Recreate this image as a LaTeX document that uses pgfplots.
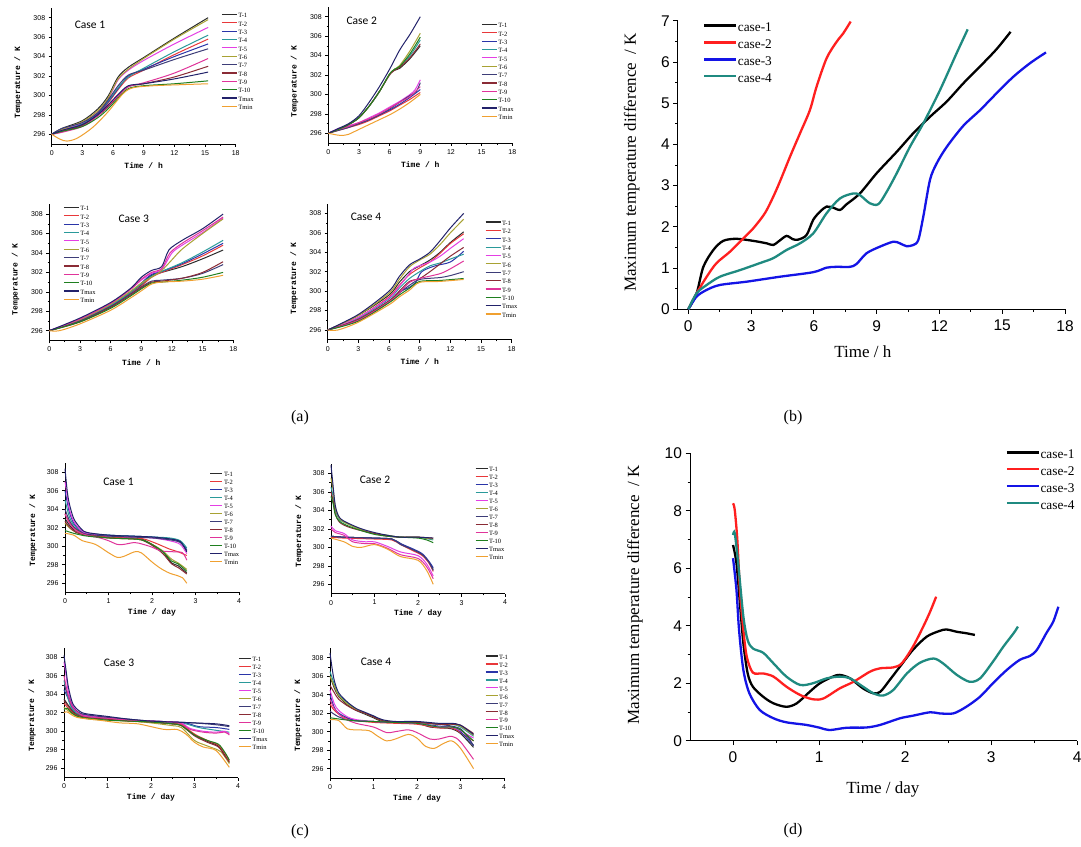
\documentclass[border=0pt]{standalone}
\usepackage{fontspec}
\setmainfont{Liberation Serif}
\setsansfont{Liberation Sans}
\setmonofont{Liberation Mono}
\newfontfamily\casefont{Carlito}
\usepackage{pgfplots}
\pgfplotsset{compat=1.18}

% probe colours (T-1 ... T-10, Tmax, Tmin)
\definecolor{cA}{HTML}{2B2B2B}
\definecolor{cB}{HTML}{E8383A}
\definecolor{cC}{HTML}{2A35A8}
\definecolor{cD}{HTML}{2A9A9A}
\definecolor{cE}{HTML}{E43FE4}
\definecolor{cF}{HTML}{A8A233}
\definecolor{cG}{HTML}{3D3D78}
\definecolor{cH}{HTML}{8A2B35}
\definecolor{cI}{HTML}{E0349A}
\definecolor{cJ}{HTML}{1F7F1F}
\definecolor{cMax}{HTML}{22226A}
\definecolor{cMin}{HTML}{F0A030}
% case colours
\definecolor{kOne}{HTML}{000000}
\definecolor{kTwo}{HTML}{FF1F1F}
\definecolor{kThree}{HTML}{1414E6}
\definecolor{kFour}{HTML}{1F8A80}

\pgfplotsset{
  origin/.style={
    scale only axis,
    axis x line*=bottom, axis y line*=left,
    tick align=outside,
    /pgf/number format/assume math mode=true,
    legend cell align=left,
    legend style={draw=none, fill=none, anchor=north west},
    clip=false,
  },
  smallpanel/.style={
    origin,
    width=184pt, height=136pt,
    ymin=295, ymax=309, ytick={296,298,...,308}, minor y tick num=1,
    xmin=0, xmax=18, xtick={0,3,...,18}, minor x tick num=1,
    major tick length=3pt, minor tick length=1.7pt,
    tick style={black, line width=0.6pt},
    axis line style={black, line width=0.6pt},
    ticklabel style={font=\sffamily\fontsize{7}{8}\selectfont},
    xlabel style={font=\ttfamily\bfseries\fontsize{8}{9}\selectfont,
      at={(axis description cs:0.5,-0.16)}, anchor=center},
    ylabel style={font=\ttfamily\bfseries\fontsize{8}{9}\selectfont,
      at={(axis description cs:-0.183,0.45)}, anchor=center},
    xlabel={Time / h}, ylabel={Temperature / K},
    every axis plot/.append style={smooth, line width=1pt, mark=none},
    legend image code/.code={\draw[##1, line width=1.2pt] (0pt,1.8pt) -- (15pt,1.8pt);},
    legend style={font=\fontsize{6.5}{7}\selectfont,
      nodes={inner sep=0pt, text height=4.5pt, text depth=1.5pt},
      row sep=2.36pt, /tikz/every odd column/.append style={column sep=1pt}},
  },
  daypanel/.style={
    smallpanel,
    width=174pt, height=129.5pt,
    xmin=0, xmax=4, xtick={0,1,...,4}, minor x tick num=1,
    xlabel={Time / day},
    xlabel style={at={(axis description cs:0.5,-0.157)}},
    ylabel style={at={(axis description cs:-0.184,0.48)}},
    legend image code/.code={\draw[##1, line width=1.2pt] (0pt,1.8pt) -- (12pt,1.8pt);},
    legend style={row sep=1.95pt},
  },
  bigpanel/.style={
    origin,
    major tick length=4.5pt, minor tick length=2.5pt,
    tick style={black, line width=0.8pt},
    axis line style={black, line width=0.8pt},
    ticklabel style={font=\sffamily\fontsize{15.5}{16}\selectfont},
    xticklabel style={yshift=-3pt},
    label style={font=\fontsize{17}{18}\selectfont},
    every axis plot/.append style={smooth, line width=2.3pt, mark=none},
    legend image code/.code={\draw[##1, line width=2.3pt] (0pt,3.3pt) -- (32pt,3.3pt);},
    legend style={font=\fontsize{13.3}{14}\selectfont,
      nodes={inner sep=0pt, text height=9pt, text depth=3pt},
      row sep=4.9pt, /tikz/every odd column/.append style={column sep=0.5pt}},
  },
}

\newcommand{\probelegend}{\legend{T-1,T-2,T-3,T-4,T-5,T-6,T-7,T-8,T-9,T-10,Tmax,Tmin}}

\begin{document}
\begin{tikzpicture}
\fill[white] (0pt,0pt) rectangle (1081pt,846pt);
\useasboundingbox (0pt,0pt) rectangle (1081pt,846pt);

% ---------------- (a) heating, Case 1 ----------------
\begin{axis}[smallpanel, at={(51.7pt,702pt)}, anchor=south west,
  legend style={at={(0.904,0.978)}}]
\addplot[cA] coordinates {(0,296)(1,296.6)(3,297.4)(4.5,298.6)(5.5,299.9)(6.5,301.9)(7.5,302.9)(9,303.9)(12,305.9)(15.3,308)};
\addplot[cB] coordinates {(0,296)(1,296.3)(3,297)(4.5,298)(5.5,299.2)(6.5,300.6)(7.5,301.8)(9,302.6)(12,304.2)(15.3,305.8)};
\addplot[cC] coordinates {(0,296)(1,296.5)(3,297)(4.5,298.1)(5.5,299.3)(6.5,300.7)(7.5,302)(9,302.7)(12,304)(15.3,305.3)};
\addplot[cD] coordinates {(0,296)(1,296.5)(3,297.1)(4.5,298.2)(5.5,299.4)(6.5,300.8)(7.5,301.9)(9,302.8)(12,304.5)(15.3,306.2)};
\addplot[cE] coordinates {(0,296)(1,296.5)(3,297.2)(4.5,298.3)(5.5,299.6)(6.5,301.6)(7.5,302.6)(9,303.6)(12,305.3)(15.3,307)};
\addplot[cF] coordinates {(0,296)(1,296.5)(3,297.3)(4.5,298.4)(5.5,299.7)(6.5,301.7)(7.5,302.7)(9,303.8)(12,305.8)(15.3,307.8)};
\addplot[cG] coordinates {(0,296)(1,296.6)(3,297.2)(4.5,298.2)(5.5,299.5)(6.5,301)(7.5,302.1)(9,302.6)(12,303.7)(15.3,304.8)};
\addplot[cH] coordinates {(0,296)(1,296.3)(3,296.9)(4.5,297.9)(5.5,298.8)(6.5,299.9)(7.5,300.9)(9,301.2)(12,301.9)(15.3,303)};
\addplot[cI] coordinates {(0,296)(1,296.2)(3,296.8)(4.5,297.9)(5.5,298.9)(6.5,300)(7.5,300.9)(9,301.3)(12,302.3)(15.3,303.8)};
\addplot[cJ] coordinates {(0,296)(1,296.3)(3,296.8)(4.5,297.7)(5.5,298.6)(6.5,299.7)(7.5,300.7)(9,301)(12,301.2)(15.3,301.5)};
\addplot[cMax] coordinates {(0,296)(1,296.4)(3,297)(4.5,298)(5.5,299)(6.5,300.1)(7.5,301)(9,301.2)(12,301.7)(15.3,302.4)};
\addplot[cMin] coordinates {(0,296)(0.8,295.5)(1.5,295.3)(2.5,295.6)(4,296.7)(5.5,298.3)(7,300.2)(8,300.8)(10,301)(12.5,301.1)(15.3,301.2)};
\probelegend
\end{axis}

% ---------------- (a) heating, Case 2 ----------------
\begin{axis}[smallpanel, at={(328.3pt,703pt)}, anchor=south west,
  legend style={at={(0.814,0.897)}}]
\addplot[cA] coordinates {(0,296)(1,296.4)(2,296.9)(3,297.6)(4,298.8)(5,300.3)(6,302.1)(6.5,302.5)(7,302.7)(8,303.7)(9,305)};
\addplot[cB] coordinates {(0,296)(1,296.3)(2,296.6)(3,296.9)(4,297.3)(5,297.8)(6,298.3)(7,298.9)(8,299.5)(9,300.2)};
\addplot[cC] coordinates {(0,296)(1,296.4)(2,296.7)(3,297)(4,297.4)(5,297.9)(6,298.4)(7,299)(8,299.7)(9,300.5)};
\addplot[cD] coordinates {(0,296)(1,296.4)(2,296.9)(3,297.6)(4,298.8)(5,300.3)(6,302.1)(6.5,302.6)(7,302.9)(8,304)(9,305.6)};
\addplot[cE] coordinates {(0,296)(1,296.5)(2,296.8)(3,297.1)(4,297.6)(5,298.1)(6,298.7)(7,299.3)(8,300)(8.5,300.5)(9,301.5)};
\addplot[cF] coordinates {(0,296)(1,296.4)(2,296.9)(3,297.6)(4,298.8)(5,300.3)(6,302.1)(6.5,302.6)(7,303)(8,304.5)(9,306.3)};
\addplot[cG] coordinates {(0,296)(1,296.3)(2,296.6)(3,297)(4,297.4)(5,297.9)(6,298.5)(7,299.2)(8,299.9)(8.6,300.3)(9,301.2)};
\addplot[cH] coordinates {(0,296)(1,296.4)(2,296.9)(3,297.6)(4,298.8)(5,300.3)(6,302)(6.5,302.5)(7,302.8)(8,303.8)(9,305.2)};
\addplot[cI] coordinates {(0,296)(1,296.4)(2,296.7)(3,297.1)(4,297.5)(5,298)(6,298.6)(7,299.2)(8,299.8)(9,300.8)};
\addplot[cJ] coordinates {(0,296)(1,296.4)(2,296.9)(3,297.6)(4,298.8)(5,300.3)(6,302.1)(6.5,302.6)(7,302.9)(8,304.2)(9,305.9)};
\addplot[cMax] coordinates {(0,296)(1,296.5)(2,297)(3,297.8)(4,299.2)(5,300.8)(6,302.6)(7,304.6)(8,306.2)(9,308)};
\addplot[cMin] coordinates {(0,296)(1,295.8)(1.6,295.8)(2,295.9)(3,296.4)(4,296.9)(5,297.4)(6,297.9)(7,298.5)(8,299.2)(9,300)};
\probelegend
\end{axis}

% ---------------- (a) heating, Case 3 ----------------
\begin{axis}[smallpanel, at={(49.3pt,505.6pt)}, anchor=south west,
  legend style={at={(0.058,1.003)}}]
\addplot[cA] coordinates {(0,296)(3,297)(6,298.5)(8,299.9)(9,300.7)(10,301.7)(11,302)(13,302.6)(15,303.4)(17,304.3)};
\addplot[cB] coordinates {(0,296)(3,297)(6,298.5)(8,299.9)(9,300.6)(10,301.5)(11,302)(13,302.8)(15,303.7)(17,304.8)};
\addplot[cC] coordinates {(0,296)(3,297.1)(6,298.6)(8,300)(9,300.9)(10,301.8)(11,302.1)(13,302.9)(15,303.9)(17,305)};
\addplot[cD] coordinates {(0,296)(3,297.1)(6,298.6)(8,300)(9,300.8)(10,301.6)(11,302.1)(13,303)(15,304.1)(17,305.3)};
\addplot[cE] coordinates {(0,296)(3,297.2)(6,298.8)(8,300.3)(9,301.2)(10,301.9)(11,302.3)(12,304)(13,304.8)(15,306.1)(17,307.6)};
\addplot[cF] coordinates {(0,296)(3,297.1)(6,298.7)(8,300.1)(9,300.9)(10,301.5)(11,302.2)(12,303.3)(13,304.4)(15,306)(17,307.5)};
\addplot[cG] coordinates {(0,296)(3,297)(6,298.5)(8,299.8)(9,300.5)(10,301.1)(11,301.2)(13,301.4)(15,301.9)(17,302.8)};
\addplot[cH] coordinates {(0,296)(3,296.9)(6,298.4)(8,299.7)(9,300.4)(10,301)(11,301.1)(13,301.4)(15,302)(17,303.1)};
\addplot[cI] coordinates {(0,296)(3,297.2)(6,298.8)(8,300.3)(9,301.3)(10,302)(11,302.4)(11.8,304)(13,305)(15,306.3)(17,307.7)};
\addplot[cJ] coordinates {(0,296)(3,296.9)(6,298.3)(8,299.6)(9,300.3)(10,300.9)(11,301)(13,301.2)(15,301.5)(17,302)};
\addplot[cMax] coordinates {(0,296)(3,297.3)(6,298.9)(8,300.4)(9,301.5)(10,302.2)(11,302.6)(11.7,304.3)(13,305.3)(15,306.5)(17,308)};
\addplot[cMin] coordinates {(0,296)(1,296)(3,296.7)(6,298.1)(8,299.4)(9,300.1)(10,300.8)(11,301)(13,301.1)(15,301.3)(17,301.7)};
\probelegend
\end{axis}

% ---------------- (a) heating, Case 4 ----------------
\begin{axis}[smallpanel, at={(327.7pt,506.3pt)}, anchor=south west,
  legend style={at={(0.837,0.89)}}]
\addplot[cA] coordinates {(0,296)(3,297.5)(6,299.6)(7,300.9)(8,302)(9,302.6)(10,303.2)(11,304)(12,305)(13.3,306.1)};
\addplot[cB] coordinates {(0,296)(3,297.3)(6,299.4)(7,300.6)(8,301.7)(9,302.4)(10,303)(11,303.9)(12,304.9)(13.3,305.9)};
\addplot[cC] coordinates {(0,296)(3,297.1)(6,299)(7,299.9)(8,300.4)(8.6,300.9)(9.2,302)(10.5,302.6)(12,303)(13.3,304.1)};
\addplot[cD] coordinates {(0,296)(3,297.2)(6,299.2)(7,300.3)(8,301.3)(9,302)(10,302.6)(11,302.9)(12,303.3)(13.3,303.8)};
\addplot[cE] coordinates {(0,296)(3,297.3)(6,299.3)(7,300.5)(8,301.8)(8.5,302.4)(10,303)(11,303.6)(12,304.4)(13.3,305.4)};
\addplot[cF] coordinates {(0,296)(3,297.5)(6,299.8)(7,301.2)(8,302.5)(9,303.2)(10,303.8)(11,304.8)(12,306)(13.3,307.4)};
\addplot[cG] coordinates {(0,296)(3,297)(6,298.9)(7,299.8)(8,300.6)(9,301.2)(11,301.4)(12,301.6)(13.3,302)};
\addplot[cH] coordinates {(0,296)(3,297.1)(6,299)(7,300)(8,301)(9,301.3)(10,302)(11,302.8)(12,303.6)(13.3,304.5)};
\addplot[cI] coordinates {(0,296)(3,297)(6,298.9)(7,299.8)(8,300.9)(9,301.3)(11,301.8)(12,302.3)(13.3,303.1)};
\addplot[cJ] coordinates {(0,296)(3,296.9)(6,298.8)(7,299.6)(8,300.3)(9,301)(11,301.1)(13.3,301.3)};
\addplot[cMax] coordinates {(0,296)(3,297.6)(6,300)(7,301.5)(8,302.7)(9,303.3)(10,304)(11,305.2)(12,306.5)(13.3,308)};
\addplot[cMin] coordinates {(0,296)(1,296)(3,296.8)(6,298.6)(7,299.4)(8,300.1)(9,300.9)(11,301)(13.3,301.2)};
\probelegend
\end{axis}

% ---------------- (c) cooling, Case 1 ----------------
\begin{axis}[daypanel, at={(65pt,253.5pt)}, anchor=south west,
  legend style={at={(0.814,0.944)}}]
\addplot[cA] coordinates {(0,303)(0.1,302.3)(0.25,301.6)(0.5,301.2)(1,301)(1.5,300.9)(1.75,300.8)(2,300.2)(2.25,299.4)(2.45,298.2)(2.6,297.9)(2.8,297.1)};
\addplot[cB] coordinates {(0,303.5)(0.1,302.6)(0.2,302)(0.4,301.4)(0.6,301.2)(1,301)(1.5,300.9)(1.8,300.8)(2.1,300.3)(2.4,299.7)(2.6,299.4)(2.8,299)};
\addplot[cC] coordinates {(0,306)(0.05,304.8)(0.1,303.7)(0.2,302.5)(0.35,301.8)(0.5,301.4)(1,301.2)(1.5,301.1)(2,301)(2.4,300.8)(2.65,300.5)(2.8,299.6)};
\addplot[cD] coordinates {(0,305)(0.1,303.2)(0.2,302.3)(0.35,301.7)(0.5,301.4)(1,301.2)(1.5,301.1)(2,301)(2.4,300.9)(2.65,300.6)(2.8,299.8)};
\addplot[cE] coordinates {(0,307)(0.05,305.5)(0.1,304)(0.2,302.7)(0.35,301.8)(0.5,301.4)(1,301.1)(1.5,301)(2,300.9)(2.4,300.6)(2.65,300.2)(2.8,299.2)};
\addplot[cF] coordinates {(0,302.5)(0.15,301.8)(0.4,301.3)(1,300.9)(1.5,300.8)(1.75,300.7)(2,300.2)(2.25,299.5)(2.45,298.6)(2.6,298.2)(2.8,297.5)};
\addplot[cG] coordinates {(0,304)(0.1,302.8)(0.2,302.1)(0.35,301.6)(0.5,301.3)(1,301.1)(1.5,301)(2,300.9)(2.4,300.7)(2.65,300.4)(2.8,299.5)};
\addplot[cH] coordinates {(0,302.7)(0.1,302.1)(0.25,301.5)(0.5,301.2)(1,300.9)(1.5,300.8)(1.75,300.7)(2,300.1)(2.25,299.2)(2.45,298.1)(2.6,297.7)(2.8,297)};
\addplot[cI] coordinates {(0,303.5)(0.1,302.5)(0.25,301.7)(0.5,301.2)(0.8,300.9)(1,300.6)(1.2,300.2)(1.35,300.2)(1.6,300.4)(1.8,300.2)(2,299.9)(2.2,299.5)(2.5,299.4)(2.7,299.3)(2.8,298.5)};
\addplot[cJ] coordinates {(0,301.7)(0.2,301.4)(0.5,301.1)(1,300.9)(1.5,300.8)(1.75,300.7)(2,300.2)(2.25,299.4)(2.45,298.4)(2.6,298.1)(2.8,297.3)};
\addplot[cMax] coordinates {(0,308.4)(0.05,306)(0.1,304.6)(0.2,303)(0.35,302)(0.5,301.5)(1,301.2)(1.5,301.1)(2,301)(2.4,300.8)(2.65,300.5)(2.8,299.4)};
\addplot[cMin] coordinates {(0,301.4)(0.2,301.2)(0.4,300.6)(0.7,300.2)(1,299.3)(1.2,298.8)(1.35,298.9)(1.6,299.4)(1.75,299.3)(2,298.3)(2.2,297.6)(2.4,297.1)(2.6,296.8)(2.7,296.6)(2.8,296)};
\probelegend
\end{axis}

% ---------------- (c) cooling, Case 2 ----------------
\begin{axis}[daypanel, at={(331pt,252.4pt)}, anchor=south west,
  legend style={at={(0.809,0.991)}}]
\addplot[cA] coordinates {(0,301.2)(0.3,301.1)(1,301)(1.4,300.9)(1.6,300.4)(1.9,299.7)(2.1,299.2)(2.25,298.4)(2.35,297.6)};
\addplot[cB] coordinates {(0,301.1)(0.3,301)(1,300.9)(1.4,300.8)(1.6,300.3)(1.9,299.6)(2.1,299.1)(2.25,298.3)(2.35,297.4)};
\addplot[cC] coordinates {(0,301.2)(0.3,301.1)(1,301)(1.4,300.9)(1.6,300.4)(1.9,299.8)(2.1,299.3)(2.25,298.5)(2.35,297.8)};
\addplot[cD] coordinates {(0,306.5)(0.05,305.5)(0.1,304)(0.2,303)(0.4,302.5)(0.7,301.9)(1,301.5)(1.3,301.3)(1.6,301.1)(2,301.1)(2.35,300.8)};
\addplot[cE] coordinates {(0,302.3)(0.1,301.8)(0.3,301.5)(0.5,300.8)(0.8,300.6)(1,300.6)(1.3,300.1)(1.6,299.5)(2,299.1)(2.2,298.2)(2.35,296.9)};
\addplot[cF] coordinates {(0,307.5)(0.05,306.2)(0.1,304.3)(0.2,303.1)(0.4,302.5)(0.7,301.9)(1,301.5)(1.3,301.3)(1.6,301.1)(2,301.1)(2.35,300.9)};
\addplot[cG] coordinates {(0,301.2)(0.3,301.1)(1,301)(1.4,300.9)(1.6,300.3)(1.9,299.7)(2.1,299.2)(2.25,298.4)(2.35,297.5)};
\addplot[cH] coordinates {(0,306)(0.05,305)(0.1,303.6)(0.2,302.7)(0.4,302.2)(0.7,301.8)(1,301.5)(1.3,301.2)(1.6,301.1)(2,301.1)(2.35,301)};
\addplot[cI] coordinates {(0,302)(0.1,301.6)(0.3,301.3)(0.5,300.6)(0.8,300.4)(1,300.4)(1.3,299.9)(1.6,299.2)(2,298.8)(2.2,297.9)(2.35,296.6)};
\addplot[cJ] coordinates {(0,305.5)(0.05,304.7)(0.1,303.5)(0.2,302.8)(0.4,302.3)(0.7,301.8)(1,301.4)(1.3,301.2)(1.6,301.1)(2,301)(2.2,300.8)(2.35,300.5)};
\addplot[cMax] coordinates {(0,308.9)(0.03,307.5)(0.1,304.5)(0.2,303.2)(0.4,302.6)(0.7,302)(1,301.6)(1.3,301.3)(1.6,301.1)(2,301.1)(2.35,301)};
\addplot[cMin] coordinates {(0,301)(0.3,300.6)(0.5,300.1)(0.7,300)(1,300.3)(1.3,299.8)(1.6,299)(2,298.6)(2.2,297.5)(2.35,296)};
\probelegend
\end{axis}

% ---------------- (c) cooling, Case 3 ----------------
\begin{axis}[daypanel, at={(64pt,68.5pt)}, anchor=south west,
  legend style={at={(0.983,0.944)}}]
\addplot[cA] coordinates {(0,303.5)(0.1,302.8)(0.25,302)(0.5,301.6)(1,301.4)(1.5,301.2)(2,301)(2.5,300.8)(2.7,300.7)(3,299.6)(3.3,298.9)(3.55,298.4)(3.7,297.4)(3.8,296.6)};
\addplot[cB] coordinates {(0,303)(0.1,302.5)(0.25,301.8)(0.5,301.5)(1,301.3)(1.5,301.1)(2,301)(2.5,300.8)(2.7,300.7)(3,299.7)(3.3,299)(3.55,298.5)(3.7,297.6)(3.8,296.8)};
\addplot[cC] coordinates {(0,304.5)(0.1,303.5)(0.2,302.5)(0.35,301.9)(0.5,301.7)(1,301.5)(1.5,301.2)(2,301.1)(2.5,301)(2.8,300.9)(3.1,300.5)(3.5,300.4)(3.8,300.2)};
\addplot[cD] coordinates {(0,305.5)(0.1,303.4)(0.2,302.3)(0.35,301.8)(0.5,301.6)(1,301.4)(1.5,301.2)(2,301.1)(2.5,301)(2.8,300.8)(3.1,300.4)(3.5,300.1)(3.8,299.9)};
\addplot[cE] coordinates {(0,307.5)(0.05,306)(0.1,304.3)(0.2,302.8)(0.35,302)(0.5,301.7)(1,301.5)(1.5,301.2)(2,301.1)(2.5,301)(2.7,300.9)(2.9,300.3)(3.2,300)(3.5,299.9)(3.7,300)(3.8,299.7)};
\addplot[cF] coordinates {(0,302.6)(0.1,302.2)(0.3,301.6)(0.6,301.3)(1,301.2)(1.5,301.1)(2,300.9)(2.5,300.6)(2.7,300.4)(3,299)(3.3,298.4)(3.6,297.8)(3.8,296.5)};
\addplot[cG] coordinates {(0,305)(0.1,303.8)(0.2,302.6)(0.35,302)(0.5,301.8)(1,301.5)(1.5,301.3)(2,301.1)(2.5,301)(3,300.9)(3.5,300.7)(3.8,300.5)};
\addplot[cH] coordinates {(0,303.3)(0.1,302.7)(0.25,301.9)(0.5,301.5)(1,301.3)(1.5,301.1)(2,301)(2.5,300.8)(2.7,300.6)(3,299.5)(3.3,298.8)(3.55,298.3)(3.7,297.3)(3.8,296.7)};
\addplot[cI] coordinates {(0,306)(0.1,303.8)(0.2,302.6)(0.35,301.9)(0.5,301.6)(1,301.4)(1.5,301.2)(2,301.1)(2.5,301)(2.7,300.8)(2.9,300.2)(3.2,299.9)(3.5,299.8)(3.7,299.9)(3.8,299.6)};
\addplot[cJ] coordinates {(0,302.3)(0.07,302.5)(0.2,301.9)(0.4,301.5)(1,301.2)(1.5,301.1)(2,301)(2.5,300.8)(2.7,300.6)(3,299.6)(3.3,299)(3.55,298.6)(3.7,297.7)(3.8,296.9)};
\addplot[cMax] coordinates {(0,308.2)(0.05,306.5)(0.1,304.8)(0.2,303)(0.35,302.2)(0.5,301.9)(1,301.6)(1.5,301.3)(2,301.1)(2.5,301)(3,300.9)(3.5,300.8)(3.8,300.6)};
\addplot[cMin] coordinates {(0,302)(0.07,302.1)(0.3,301.5)(0.8,301.2)(1.3,300.9)(1.7,300.8)(2.3,300.2)(2.6,300.2)(2.8,299.7)(3,298.8)(3.2,298.3)(3.5,297.9)(3.8,296.1)};
\probelegend
\end{axis}

% ---------------- (c) cooling, Case 4 ----------------
\begin{axis}[daypanel, at={(330pt,68.1pt)}, anchor=south west,
  legend style={at={(0.872,0.967)}}]
\addplot[cA] coordinates {(0,306)(0.1,304.7)(0.2,303.8)(0.4,302.9)(0.6,302.3)(0.8,301.9)(1,301.5)(1.2,301.1)(1.5,301)(2,300.9)(2.3,300.5)(2.6,300.4)(2.8,300.3)(3,299.8)(3.3,298.3)};
\addplot[cB] coordinates {(0,303)(0.1,302.3)(0.3,301.6)(0.6,301.2)(1,301)(1.5,300.9)(2,300.8)(2.5,300.4)(2.8,300.4)(3,299.9)(3.3,299)};
\addplot[cC] coordinates {(0,304)(0.1,302.6)(0.2,302)(0.4,301.5)(0.6,301.2)(1,301.1)(1.5,301)(2,300.9)(2.5,300.6)(2.8,300.5)(3,300)(3.3,298.5)};
\addplot[cD] coordinates {(0,306.5)(0.05,305.8)(0.1,305.1)(0.2,304)(0.4,303.1)(0.6,302.4)(0.8,302)(1,301.7)(1.2,301.2)(1.5,301)(2,301)(2.5,300.8)(2.8,300.8)(3,300.5)(3.3,299.5)};
\addplot[cE] coordinates {(0,304.5)(0.1,303)(0.2,302.3)(0.4,301.6)(0.6,301.3)(1,301.1)(1.5,301)(2,300.9)(2.5,300.5)(2.8,300.5)(3,300.1)(3.3,299.3)};
\addplot[cF] coordinates {(0,306)(0.1,304.9)(0.2,303.9)(0.4,303)(0.6,302.4)(0.8,302)(1,301.6)(1.2,301.2)(1.5,301)(2,301)(2.5,300.8)(2.8,300.8)(3,300.6)(3.3,299.6)};
\addplot[cG] coordinates {(0,302.2)(0.2,301.6)(0.5,301.2)(1,301.1)(1.5,301)(2,301)(2.5,300.8)(3,300.3)(3.3,298.5)};
\addplot[cH] coordinates {(0,305)(0.1,304.2)(0.2,303.5)(0.4,302.8)(0.6,302.3)(0.8,302)(1,301.6)(1.2,301.2)(1.5,301)(2,301)(2.5,300.8)(2.8,300.8)(3,300.7)(3.3,299.8)};
\addplot[cI] coordinates {(0,303.5)(0.1,302.5)(0.3,301.5)(0.6,300.9)(1,300.5)(1.3,299.9)(1.5,300)(1.8,300.2)(2,299.9)(2.3,299.2)(2.5,299.2)(2.8,299.5)(3,298.9)(3.3,297)};
\addplot[cJ] coordinates {(0,301.5)(0.5,301.2)(1,301.1)(1.5,301)(2,300.9)(2.5,300.5)(2.8,300.5)(3,300.2)(3.3,299)};
\addplot[cMax] coordinates {(0,308.5)(0.05,306.8)(0.1,305.5)(0.2,304.2)(0.4,303.2)(0.6,302.5)(0.8,302.1)(1,301.7)(1.2,301.3)(1.5,301.1)(2,301.1)(2.5,300.9)(2.8,300.9)(3,300.7)(3.3,299.7)};
\addplot[cMin] coordinates {(0,301.3)(0.2,301.2)(0.4,300.3)(0.6,300.2)(0.9,300.1)(1.1,299.5)(1.3,299)(1.5,299.2)(1.8,299.7)(2,299.3)(2.2,298.4)(2.4,298.2)(2.6,298.7)(2.8,299)(3,298.2)(3.3,296)};
\probelegend
\end{axis}

% ---------------- (b) heating, maximum difference ----------------
\begin{axis}[bigpanel, at={(677.8pt,536.7pt)}, anchor=south west,
  width=387.2pt, height=288.6pt,
  xmin=-0.5, xmax=18, xtick={0,3,...,18}, minor x tick num=1,
  ymin=0, ymax=7, ytick={0,1,...,7}, minor y tick num=1,
  xlabel={Time / h}, ylabel={Maximum temperature difference\ \ / K},
  xlabel style={at={(axis description cs:0.478,-0.147)}, anchor=center},
  ylabel style={at={(axis description cs:-0.119,0.509)}, anchor=center},
  legend style={at={(0.057,1.0)}}]
\addplot[kOne] coordinates {(0,0)(0.4,0.39)(0.72,1.03)(1.2,1.44)(1.67,1.66)(2.3,1.71)(3.1,1.66)(3.75,1.6)(4.06,1.56)(4.4,1.68)(4.7,1.78)(5.0,1.7)(5.25,1.69)(5.65,1.8)(5.97,2.17)(6.3,2.37)(6.6,2.49)(6.9,2.47)(7.25,2.41)(7.57,2.55)(8.2,2.81)(9,3.3)(9.96,3.82)(10.75,4.27)(11.55,4.67)(12.35,5.04)(13.14,5.48)(13.94,5.89)(14.73,6.31)(15.4,6.73)};
\addplot[kTwo] coordinates {(0,0)(0.4,0.39)(0.88,0.79)(1.35,1.12)(2,1.4)(2.63,1.72)(3.1,1.96)(3.66,2.33)(4.06,2.73)(4.38,3.1)(4.86,3.7)(5.34,4.27)(5.81,4.83)(6.13,5.4)(6.61,6.09)(7.09,6.49)(7.4,6.69)(7.76,6.98)};
\addplot[kThree] coordinates {(0,0)(0.4,0.31)(0.88,0.47)(1.51,0.59)(2.79,0.67)(4.38,0.79)(5.97,0.9)(6.61,1.01)(7.09,1.03)(7.73,1.03)(8.04,1.1)(8.52,1.36)(9.16,1.52)(9.8,1.64)(10.11,1.6)(10.43,1.53)(10.75,1.56)(10.99,1.68)(11.23,2.25)(11.55,3.14)(11.87,3.54)(12.35,3.94)(13.14,4.45)(13.94,4.83)(14.73,5.24)(15.53,5.64)(16.33,5.97)(17.09,6.23)};
\addplot[kFour] coordinates {(0,0)(0.4,0.39)(0.88,0.59)(1.51,0.79)(2.47,0.95)(3.42,1.12)(4.06,1.24)(4.7,1.44)(5.34,1.6)(5.97,1.84)(6.61,2.33)(7.25,2.69)(7.89,2.81)(8.2,2.77)(8.68,2.57)(9.08,2.55)(9.48,2.85)(9.96,3.3)(10.59,3.94)(11.23,4.51)(12.03,5.32)(12.82,6.21)(13.35,6.79)};
\legend{case-1,case-2,case-3,case-4}
\end{axis}

% ---------------- (d) cooling, maximum difference ----------------
\begin{axis}[bigpanel, at={(690pt,105.3pt)}, anchor=south west,
  width=387.3pt, height=287.4pt,
  xmin=-0.5, xmax=4, xtick={0,1,...,4}, minor x tick num=1,
  ymin=0, ymax=10, ytick={0,2,...,10}, minor y tick num=1,
  xlabel={Time / day}, ylabel={Maximum temperature difference\ \ / K},
  xlabel style={at={(axis description cs:0.498,-0.168)}, anchor=center},
  ylabel style={at={(axis description cs:-0.142,0.507)}, anchor=center},
  legend style={at={(0.807,1.02)}}]
\addplot[kOne] coordinates {(0,6.81)(0.04,6.17)(0.08,4.78)(0.12,3.39)(0.17,2.34)(0.23,1.88)(0.35,1.53)(0.47,1.3)(0.62,1.18)(0.74,1.3)(0.89,1.7)(1.01,2.0)(1.16,2.23)(1.24,2.29)(1.36,2.17)(1.51,1.82)(1.63,1.65)(1.71,1.7)(1.82,2.11)(1.94,2.58)(2.09,3.16)(2.25,3.62)(2.4,3.82)(2.48,3.87)(2.6,3.79)(2.71,3.74)(2.81,3.68)};
\addplot[kTwo] coordinates {(0,8.26)(0.02,8.03)(0.05,6.98)(0.08,5.24)(0.12,3.85)(0.16,2.92)(0.23,2.37)(0.35,2.34)(0.47,2.23)(0.62,1.88)(0.78,1.59)(0.93,1.44)(1.05,1.47)(1.24,1.82)(1.4,2.05)(1.59,2.4)(1.71,2.52)(1.86,2.55)(1.96,2.69)(2.09,3.27)(2.21,3.97)(2.29,4.49)(2.36,5.01)};
\addplot[kThree] coordinates {(0,6.35)(0.04,5.24)(0.07,3.85)(0.12,2.46)(0.19,1.65)(0.31,1.07)(0.47,0.78)(0.62,0.64)(0.85,0.55)(1.01,0.45)(1.12,0.37)(1.32,0.45)(1.55,0.46)(1.71,0.55)(1.94,0.78)(2.09,0.87)(2.29,0.99)(2.4,0.95)(2.56,0.95)(2.71,1.18)(2.87,1.53)(3.02,2.0)(3.18,2.46)(3.33,2.81)(3.45,2.95)(3.53,3.16)(3.64,3.74)(3.72,4.14)(3.78,4.66)};
\addplot[kFour] coordinates {(0,7.16)(0.02,7.22)(0.06,6.17)(0.12,4.32)(0.17,3.5)(0.23,3.21)(0.35,3.06)(0.47,2.69)(0.62,2.23)(0.78,1.94)(0.93,2.0)(1.09,2.17)(1.24,2.23)(1.36,2.17)(1.51,1.88)(1.63,1.65)(1.74,1.57)(1.86,1.76)(2.02,2.34)(2.17,2.71)(2.33,2.86)(2.44,2.69)(2.6,2.29)(2.75,2.05)(2.87,2.17)(3.02,2.75)(3.14,3.27)(3.26,3.74)(3.31,3.97)};
\legend{case-1,case-2,case-3,case-4}
\end{axis}

% panel titles and sub-figure letters
\begin{scope}[font=\casefont\fontsize{11.5}{12}\selectfont]
\node at (90pt,821pt) {Case 1};
\node at (361.7pt,825pt) {Case 2};
\node at (133.7pt,627pt) {Case 3};
\node at (366pt,629.3pt) {Case 4};
\node at (118.5pt,364.3pt) {Case 1};
\node at (375pt,366pt) {Case 2};
\node at (119pt,183pt) {Case 3};
\node at (376pt,184pt) {Case 4};
\end{scope}
\begin{scope}[font=\fontsize{16}{17}\selectfont]
\node at (300pt,428pt) {(a)};
\node at (793pt,428pt) {(b)};
\node at (300pt,14pt) {(c)};
\node at (793pt,15pt) {(d)};
\end{scope}
\end{tikzpicture}
\end{document}
